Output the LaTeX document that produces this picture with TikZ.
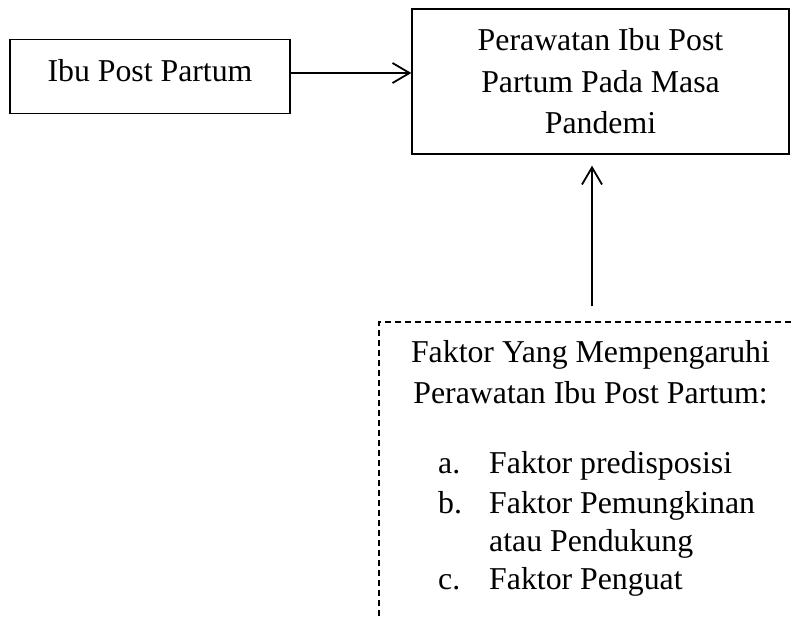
\documentclass[tikz,border=0pt]{standalone}
\usepackage{fontspec}
\setmainfont{Liberation Serif}
\usetikzlibrary{arrows.meta}
\tikzset{
  box/.style={draw, line width=1.4pt, rectangle, inner sep=0pt},
  dbox/.style={draw, line width=1.2pt, dash pattern=on 6pt off 4pt, rectangle, inner sep=0pt},
  txt/.style={inner sep=0pt, font=\fontsize{31.8}{38}\selectfont},
  arr/.style={line width=1.8pt, -{Straight Barb[length=17pt,width=20pt,line width=1.8pt]}}
}
\begin{document}
\begin{tikzpicture}[x=1pt,y=-1pt]
\useasboundingbox (0,0) rectangle (791,618);
\clip (0,0) rectangle (791,618);
\fill[white] (0,0) rectangle (791,618);
% boxes
\node[box, minimum width=280pt, minimum height=74pt] (b1) at (150,76.5) {};
\node[box, minimum width=377pt, minimum height=145pt] (b2) at (600.5,81.5) {};
\node[dbox, minimum width=426pt, minimum height=330pt] (fb) at (592,487) {};
% texts
\node[txt, anchor=base] (t1) at (150,81) {Ibu Post Partum};
\node[txt, anchor=base] (t2a) at (600.5,50) {Perawatan Ibu Post};
\node[txt, anchor=base] (t2b) at (600.5,92) {Partum Pada Masa};
\node[txt, anchor=base] (t2c) at (600.5,133) {Pandemi};
\node[txt, anchor=base] (t3a) at (590.5,362) {Faktor Yang Mempengaruhi};
\node[txt, anchor=base] (t3b) at (590.5,403) {Perawatan Ibu Post Partum:};
\node[txt, anchor=base west] (la) at (438,473) {a.};
\node[txt, anchor=base west] (ia) at (489,473) {Faktor predisposisi};
\node[txt, anchor=base west] (lb) at (438,513) {b.};
\node[txt, anchor=base west] (ib) at (489,513) {Faktor Pemungkinan};
\node[txt, anchor=base west] (ib2) at (489,551) {atau Pendukung};
\node[txt, anchor=base west] (lc) at (438,589) {c.};
\node[txt, anchor=base west] (ic) at (489,589) {Faktor Penguat};
% connectors
\draw[arr] ([yshift=3.5pt]b1.east) -- ([yshift=3.5pt]b1.east -| b2.west);
\draw[arr] ([yshift=15pt]fb.north) -- ([yshift=-11pt]b2.south -| fb.north);
\end{tikzpicture}
\end{document}
